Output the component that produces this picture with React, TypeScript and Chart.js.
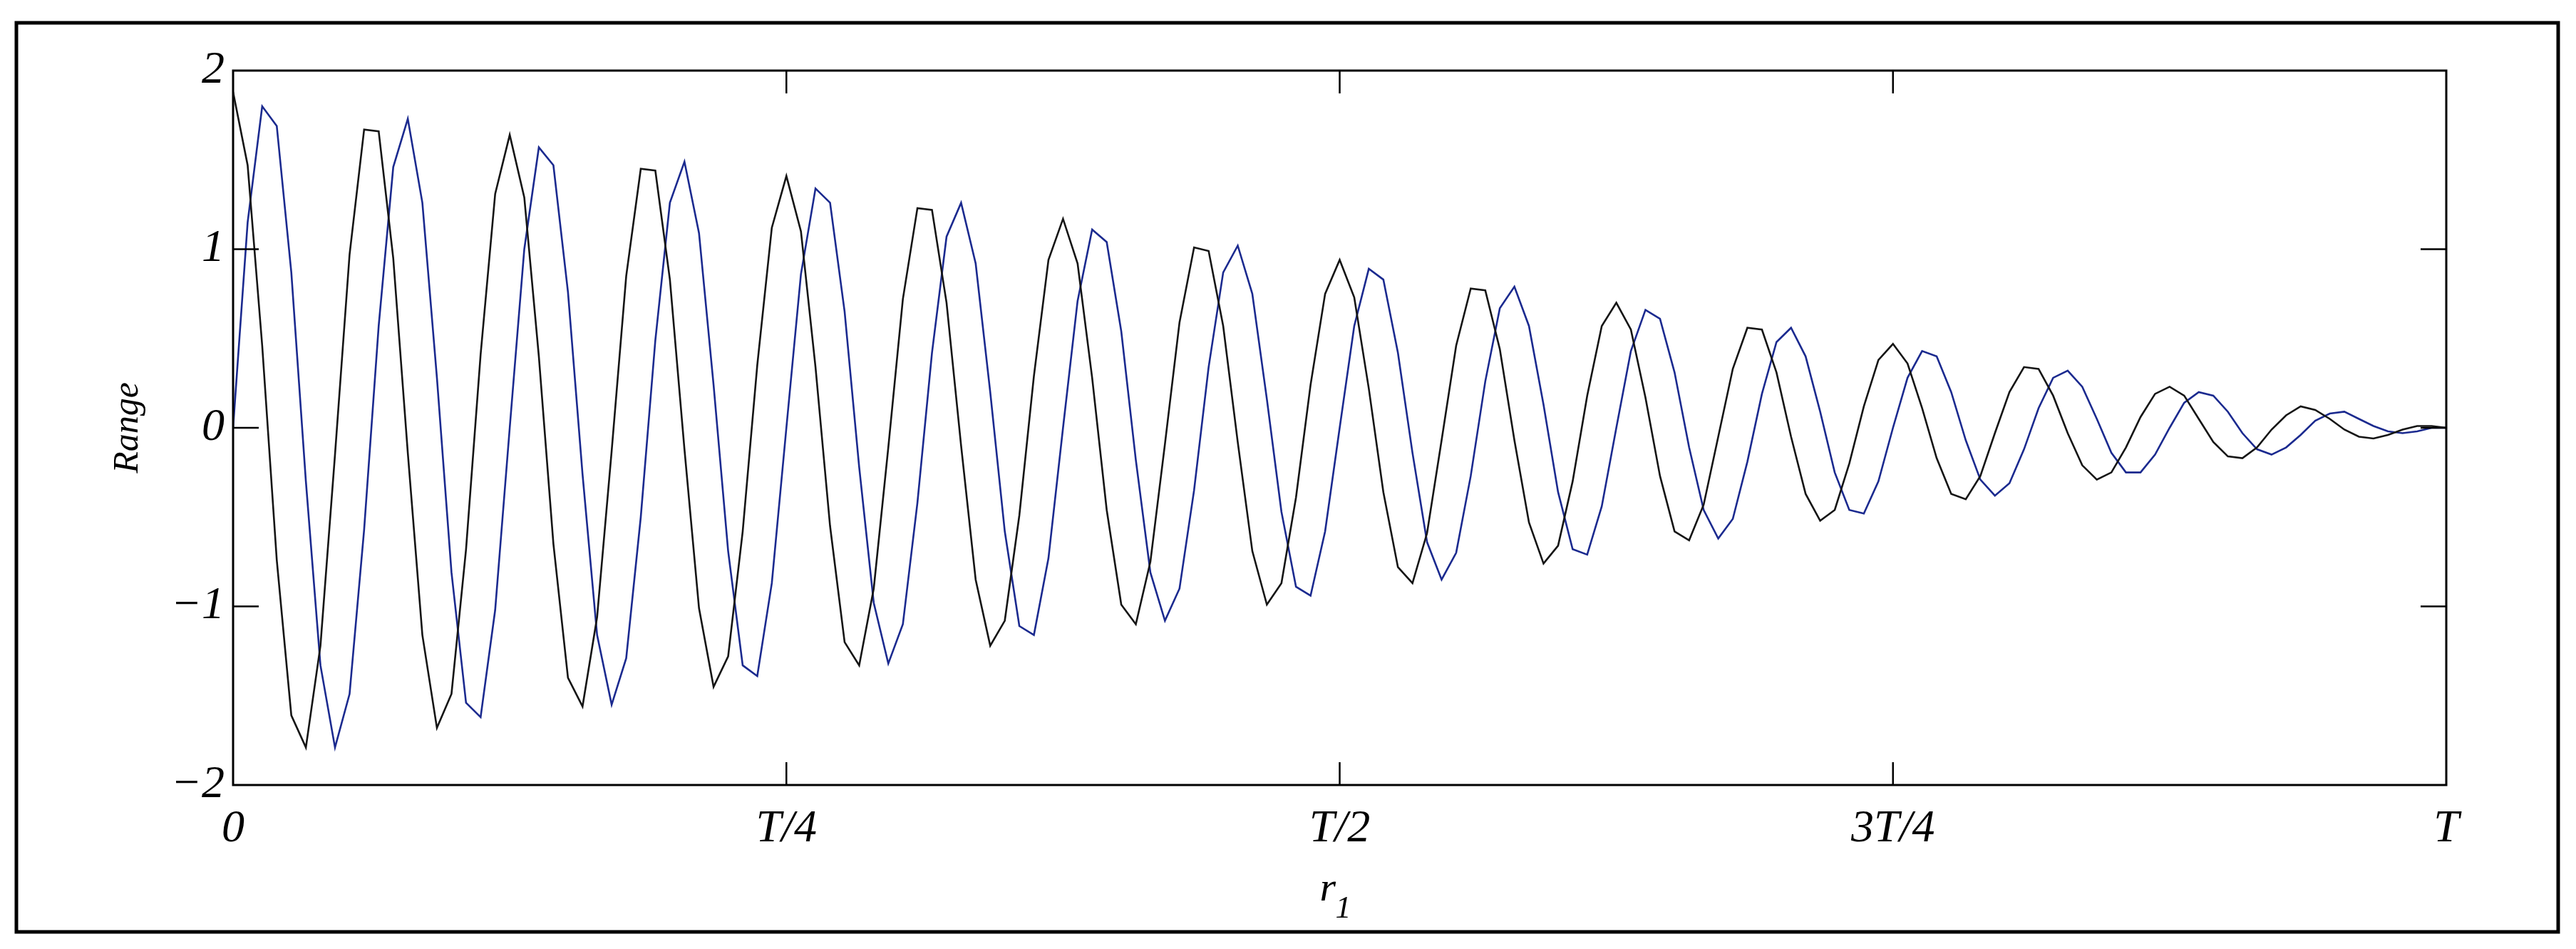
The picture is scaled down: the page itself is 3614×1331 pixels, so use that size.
import React, { useEffect, useRef } from 'react';
import { Chart, registerables } from 'chart.js';

Chart.register(...registerables);

// x axis: fraction of T
const xTickValues = [0, 0.25, 0.5, 0.75, 1];
const xTickLabels = ['0', 'T/4', 'T/2', '3T/4', 'T'];
const yTickValues = [-2, -1, 0, 1, 2];
const yTickLabels = ['\u22122', '\u22121', '0', '1', '2'];
const yAxisTitle = 'Range';

const blackRange = [
  1.88, 1.47, 0.46, -0.74, -1.61, -1.79, -1.22, -0.15, 0.97, 1.67, 1.66, 0.95, -0.14, -1.16, -1.68, -1.49, -0.68, 0.41, 1.31,
  1.64, 1.29, 0.40, -0.65, -1.40, -1.56, -1.06, -0.13, 0.85, 1.45, 1.44, 0.83, -0.12, -1.01, -1.45, -1.28, -0.58, 0.35, 1.12,
  1.41, 1.10, 0.34, -0.55, -1.20, -1.33, -0.90, -0.11, 0.72, 1.23, 1.22, 0.70, -0.10, -0.85, -1.22, -1.08, -0.49, 0.29, 0.94,
  1.17, 0.92, 0.28, -0.46, -0.99, -1.10, -0.75, -0.09, 0.59, 1.01, 0.99, 0.57, -0.08, -0.69, -0.99, -0.87, -0.39, 0.24, 0.75,
  0.94, 0.73, 0.22, -0.36, -0.78, -0.87, -0.59, -0.07, 0.46, 0.78, 0.77, 0.44, -0.07, -0.53, -0.76, -0.66, -0.30, 0.18, 0.57,
  0.70, 0.55, 0.17, -0.27, -0.58, -0.63, -0.43, -0.05, 0.33, 0.56, 0.55, 0.31, -0.05, -0.37, -0.52, -0.46, -0.20, 0.12, 0.38,
  0.47, 0.36, 0.11, -0.17, -0.37, -0.40, -0.27, -0.03, 0.20, 0.34, 0.33, 0.18, -0.03, -0.21, -0.29, -0.25, -0.11, 0.06, 0.19,
  0.23, 0.18, 0.05, -0.08, -0.16, -0.17, -0.11, -0.01, 0.07, 0.12, 0.10, 0.05, -0.01, -0.05, -0.06, -0.04, -0.01, 0.01, 0.01,
  0,
];

const blueRange = [
  0, 1.15, 1.80, 1.69, 0.87, -0.30, -1.33, -1.79, -1.49, -0.57, 0.57, 1.46, 1.73, 1.26, 0.28, -0.81, -1.54, -1.62, -1.02,
  0, 1.00, 1.57, 1.47, 0.76, -0.26, -1.16, -1.55, -1.29, -0.50, 0.49, 1.26, 1.49, 1.09, 0.24, -0.69, -1.33, -1.39, -0.87,
  0, 0.86, 1.34, 1.26, 0.65, -0.22, -0.98, -1.32, -1.10, -0.42, 0.42, 1.07, 1.26, 0.92, 0.20, -0.58, -1.11, -1.16, -0.73,
  0, 0.71, 1.11, 1.04, 0.54, -0.18, -0.81, -1.08, -0.90, -0.35, 0.34, 0.87, 1.02, 0.75, 0.16, -0.47, -0.89, -0.94, -0.58,
  0, 0.57, 0.89, 0.83, 0.42, -0.14, -0.64, -0.85, -0.70, -0.27, 0.26, 0.67, 0.79, 0.57, 0.13, -0.36, -0.68, -0.71, -0.44,
  0, 0.43, 0.66, 0.61, 0.31, -0.11, -0.46, -0.62, -0.51, -0.19, 0.19, 0.48, 0.56, 0.40, 0.09, -0.25, -0.46, -0.48, -0.30,
  0, 0.28, 0.43, 0.40, 0.20, -0.07, -0.29, -0.38, -0.31, -0.12, 0.11, 0.28, 0.32, 0.23, 0.05, -0.14, -0.25, -0.25, -0.15,
  0, 0.14, 0.20, 0.18, 0.09, -0.03, -0.12, -0.15, -0.11, -0.04, 0.04, 0.08, 0.09, 0.05, 0.01, -0.02, -0.03, -0.02, 0.00,
  0,
];

const W = 3614;
const H = 1331;
const FONT = '"Liberation Serif", "Times New Roman", serif';

export default function App() {
  const ref = useRef<HTMLCanvasElement | null>(null);

  useEffect(() => {
    const canvas = ref.current;
    if (!canvas) return;
    const toPts = (arr: number[]) => arr.map((y, i) => ({ x: i / (arr.length - 1), y }));

    const framePlugin = {
      id: 'matlabFrame',
      beforeDraw(chart: any) {
        const ctx = chart.ctx;
        ctx.save();
        ctx.fillStyle = '#ffffff';
        ctx.fillRect(0, 0, chart.width, chart.height);
        ctx.restore();
      },
      afterDraw(chart: any) {
        const { ctx, chartArea: a, scales } = chart;
        ctx.save();
        ctx.strokeStyle = '#000';
        ctx.lineWidth = 3;
        ctx.strokeRect(a.left, a.top, a.right - a.left, a.bottom - a.top);
        ctx.lineWidth = 2.5;
        ctx.beginPath();
        [-1, 0, 1].forEach((v) => {
          const y = scales.y.getPixelForValue(v);
          ctx.moveTo(a.left, y);
          ctx.lineTo(a.left + 36, y);
          ctx.moveTo(a.right, y);
          ctx.lineTo(a.right - 36, y);
        });
        [0.25, 0.5, 0.75].forEach((v) => {
          const x = scales.x.getPixelForValue(v);
          ctx.moveTo(x, a.top);
          ctx.lineTo(x, a.top + 32);
          ctx.moveTo(x, a.bottom);
          ctx.lineTo(x, a.bottom - 32);
        });
        ctx.stroke();
        // outer figure border
        ctx.lineWidth = 5;
        ctx.strokeRect(23, 32, 3566, 1275);
        // x-axis title r_1
        ctx.fillStyle = '#000';
        ctx.textAlign = 'left';
        ctx.textBaseline = 'alphabetic';
        const cx = (a.left + a.right) / 2;
        ctx.font = `italic 58px ${FONT}`;
        ctx.fillText('r', cx - 28, 1263);
        ctx.font = `italic 44px ${FONT}`;
        ctx.fillText('1', cx - 6, 1287);
        ctx.restore();
      },
    };

    const chart = new Chart(canvas, {
      type: 'line',
      data: {
        datasets: [
          {
            label: 'black',
            data: toPts(blackRange),
            borderColor: '#151515',
            borderWidth: 2.6,
            pointRadius: 0,
            tension: 0,
            fill: false,
          },
          {
            label: 'blue',
            data: toPts(blueRange),
            borderColor: '#1b2a8f',
            borderWidth: 2.6,
            pointRadius: 0,
            tension: 0,
            fill: false,
          },
        ],
      },
      options: {
        responsive: false,
        devicePixelRatio: 1,
        animation: false,
        layout: { padding: { left: 0, top: 99, right: W - 3432, bottom: 0 } },
        plugins: { legend: { display: false }, tooltip: { enabled: false } },
        scales: {
          x: {
            type: 'linear',
            min: 0,
            max: 1,
            grid: { display: false, drawTicks: false },
            border: { display: false },
            afterBuildTicks: (s: any) => {
              s.ticks = xTickValues.map((v) => ({ value: v }));
            },
            ticks: {
              autoSkip: false,
              maxRotation: 0,
              padding: 24,
              color: '#000',
              font: { family: FONT, size: 64, style: 'italic' },
              callback: (v: any) => xTickLabels[xTickValues.indexOf(Number(v))],
            },
            afterFit: (s: any) => {
              s.height = H - 1101;
            },
          },
          y: {
            type: 'linear',
            min: -2,
            max: 2,
            grid: { display: false, drawTicks: false },
            border: { display: false },
            afterBuildTicks: (s: any) => {
              s.ticks = yTickValues.map((v) => ({ value: v }));
            },
            ticks: {
              padding: 12,
              color: '#000',
              font: { family: FONT, size: 64, style: 'italic' },
              callback: (v: any) => yTickLabels[yTickValues.indexOf(Number(v))],
            },
            title: {
              display: true,
              text: yAxisTitle,
              color: '#000',
              font: { family: FONT, size: 50, style: 'italic' },
              padding: { top: 150, bottom: 0 },
            },
            afterFit: (s: any) => {
              s.width = 327;
            },
          },
        },
      },
      plugins: [framePlugin],
    });

    return () => chart.destroy();
  }, []);

  return (
    <div style={{ position: 'fixed', left: 0, top: 0, width: W, height: H, background: '#fff' }}>
      <canvas ref={ref} width={W} height={H} style={{ display: 'block', width: W, height: H }} />
    </div>
  );
}
